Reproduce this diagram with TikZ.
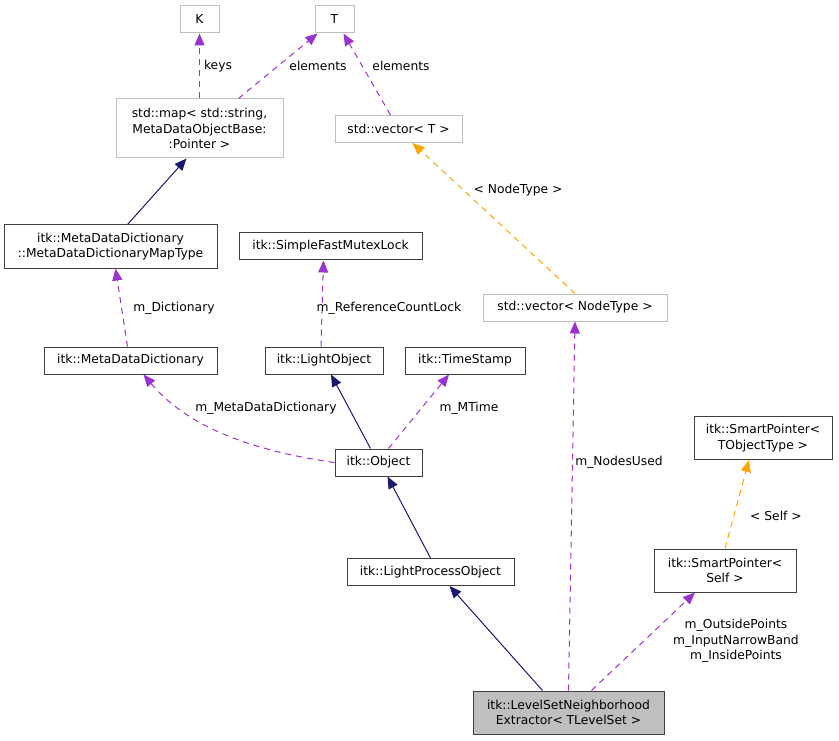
\documentclass[tikz,border=0pt]{standalone}
\usepackage{fontspec}
\setmainfont{DejaVu Sans}
\usetikzlibrary{arrows.meta}
\definecolor{usecol}{HTML}{9A32CD}
\definecolor{inhcol}{HTML}{191970}
\definecolor{tplcol}{HTML}{FFA500}
\definecolor{boxgray}{HTML}{BFBFBF}
\tikzset{
  cls/.style={draw=black!75,line width=1pt,rectangle,inner sep=2pt,minimum height=27pt,align=center,font=\fontsize{12.3}{15.5}\selectfont},
  ext/.style={cls,draw=boxgray},
  two/.style={minimum height=43pt},
  inh/.style={draw=inhcol,line width=1pt,-{Triangle[length=12pt,width=10pt]}},
  use/.style={draw=usecol,line width=1pt,dash pattern=on 6pt off 5pt,-{Triangle[length=12pt,width=10pt,fill=usecol]}},
  tpl/.style={draw=tplcol,line width=1pt,dash pattern=on 6pt off 5pt,-{Triangle[length=12pt,width=10pt,fill=tplcol]}},
  lab/.style={font=\fontsize{12.3}{15.5}\selectfont,align=center}
}
\begin{document}
\begin{tikzpicture}[x=1pt,y=-1pt]
\useasboundingbox (0,0) rectangle (839,741);
% classes
\node[ext,minimum width=39pt] (K) at (199.5,19.5) {K};
\node[ext,minimum width=39pt] (T) at (334.5,19.5) {T};
\node[ext,minimum width=167pt,minimum height=59pt] (map) at (199.5,128.5) {std::map< std::string,\\ MetaDataObjectBase:\\:Pointer >};
\node[ext,minimum width=127pt] (vecT) at (398.5,129) {std::vector< T >};
\node[cls,two,minimum width=213pt] (maptype) at (110.5,246.5) {itk::MetaDataDictionary\\::MetaDataDictionaryMapType};
\node[cls,minimum width=183pt] (mutex) at (330.5,246.5) {itk::SimpleFastMutexLock};
\node[ext,minimum width=184pt] (vecN) at (575,307.5) {std::vector< NodeType >};
\node[cls,minimum width=173pt] (dict) at (130.5,360.5) {itk::MetaDataDictionary};
\node[cls,minimum width=118pt] (light) at (324,360.5) {itk::LightObject};
\node[cls,minimum width=120pt] (stamp) at (465,360.5) {itk::TimeStamp};
\node[cls,minimum width=87pt] (object) at (378.5,462.5) {itk::Object};
\node[cls,two,minimum width=138pt] (spT) at (763,438) {itk::SmartPointer<\\ TObjectType >};
\node[cls,minimum width=167pt] (lpo) at (430.5,572) {itk::LightProcessObject};
\node[cls,two,minimum width=142pt] (spS) at (725,570.5) {itk::SmartPointer<\\ Self >};
\node[cls,two,fill=boxgray,minimum width=191pt] (main) at (568.5,712.5) {itk::LevelSetNeighborhood\\ Extractor< TLevelSet >};

% relations
\draw[use] (map.north) -- (K.south);
\node[lab] (lkeys) at (218,66) {keys};
\draw[use] ([xshift=39pt]map.north) -- ([xshift=-17pt]T.south);
\node[lab] (lel1) at (318,66) {elements};
\draw[use] ([xshift=-8pt]vecT.north) -- ([xshift=9pt]T.south);
\node[lab] (lel2) at (401,66) {elements};
\draw[inh] ([xshift=17pt]maptype.north) -- ([xshift=-13pt]map.south);
\draw[use] ([xshift=-3pt]dict.north) -- ([xshift=5pt]maptype.south);
\node[lab] (ldict) at (174,308) {m\_Dictionary};
\draw[use] ([xshift=-3pt]light.north) -- ([xshift=-7pt]mutex.south);
\node[lab] (lref) at (389,308) {m\_ReferenceCountLock};
\draw[tpl] (vecN.north) -- ([xshift=14pt]vecT.south);
\node[lab] (lnt) at (518,190) {< NodeType >};
\draw[use] (object.west) .. controls (260,452) and (190,430) .. ([xshift=13pt]dict.south);
\node[lab] (lmdd) at (266,408) {m\_MetaDataDictionary};
\draw[inh] ([xshift=-8pt]object.north) -- ([xshift=7pt]light.south);
\draw[use] ([xshift=10pt]object.north) -- ([xshift=-16pt]stamp.south);
\node[lab] (lmt) at (469,408) {m\_MTime};
\draw[inh] (lpo.north) -- ([xshift=9pt]object.south);
\draw[use] (main.north) -- (vecN.south);
\node[lab] (lnu) at (619,462) {m\_NodesUsed};
\draw[tpl] (spS.north) -- ([xshift=-14pt]spT.south);
\node[lab] (lself) at (776,516) {< Self >};
\draw[inh] ([xshift=-26pt]main.north) -- ([xshift=19pt]lpo.south);
\draw[use] ([xshift=23pt]main.north) -- ([xshift=-30pt]spS.south);
\node[lab] (lpts) at (736,641) {m\_OutsidePoints\\m\_InputNarrowBand\\m\_InsidePoints};
\end{tikzpicture}
\end{document}
